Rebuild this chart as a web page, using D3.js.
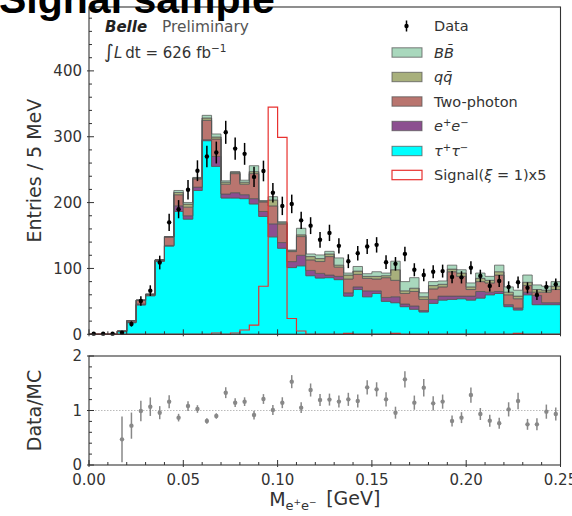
<!DOCTYPE html>
<html>
<head>
<meta charset="utf-8">
<script src="https://cdn.jsdelivr.net/npm/d3@7"></script>
<style>
  body { margin: 0; background: #fff; }
  svg { display: block; font-family: "DejaVu Sans", sans-serif; }
</style>
</head>
<body>
<div id="chart"></div>
<script>
// 5 MeV bins from 0 to 0.25 GeV
const binWidth = 0.005;
const nBins = 50;

// stacked MC components, entries per bin (bottom to top)
const tauTau = [0,0,0,4,17.6,44.6,58.5,111,134,186.5,174.9,218.4,294,255,207,207,206,198,179,148,130.7,101.3,104,89,85.5,86,83,58,68,57,62,50,48,42,38,34,47,52,53,54,52,55,60,62,42,37,60,45,45,45];
const eeBkg = [0,0,0,0.3,1,1.5,0.5,0.5,1,8.6,5.1,5.1,1.5,15.1,6,8,6,8,7.5,19.7,8.6,9.1,16,8,7,4,5,5,4,9,4,6,9,4,5,2,6,6,5,4,6,10,4,3,3,3,4,14,3,3];
const twoPhoton = [0,0,0,0.7,2,5.5,1.5,1.5,13,16.8,13.1,12.5,29.4,26.4,15,29,16,38,14.5,27.3,28.4,15.2,28.4,16,18,28,14,21,19,19,18,30,25,16,22,17,16,14,37,30,10,15,14,25,15,14,10,5,16,20];
const qqBar = [0,0,0,0,0.1,0.4,0.5,0,0,3.5,4.6,1.3,3.6,3.1,3,2,3,3,1,9,1.8,1.4,2.6,5,4.5,4,3,6,5,3,4,3,16,4,5,4,5,4,4,5,4,5,4,5,4,4,5,4,3,5];
const bbBar = [0,0,0,0,0,0,0,0,0,3,2.5,0.9,4,4.6,2,1,3,9,1,5,1.5,1,10,4,5.5,4,11,3,7,4,7,4,13,14,16,6,6,5,6,5,6,8,6,10,8,9,11,7,6,7];

// signal (xi = 1) scaled x5
const signalX5 = [0,0,0,0,0,0,0,0,0,0,0,0,0,2,0,2,6.5,14,73,345,299,24,5,0,0,0,0,1.5,0,0,0,0,1.5,0,0,0,0,0,0,0,0,0,0,0,0,1.5,0,0,0,0];

// data
const dataCounts = [1,1,1,2.3,15.7,50.6,66.3,109,170,190,219.5,248.4,270,276,306.7,282,274,239,248,215,195,198,173,165,143.5,154,134.3,111,123,133.3,135.8,109.5,107,122,98,90,95,96,87,86.5,101,88.7,73.5,81,72,79,70.5,59.8,72,76];
const dataErr = [1,1,1,1.5,4,7.1,8.1,10.4,13,13.8,14.8,15.8,16.4,16.6,17.5,16.8,16.6,15.5,15.7,14.7,14,14.1,13.2,12.8,12,12.4,11.6,10.5,11.1,11.5,11.7,10.5,10.3,11,9.9,9.5,9.7,9.8,9.3,9.3,10,9.4,8.6,9,8.5,8.9,8.4,7.7,8.5,8.7];

// data / MC ratio (no point where MC is empty)
const ratioVals = [null,null,null,0.471,0.722,0.991,1.07,0.96,1.162,0.869,1.082,1.027,0.807,0.899,1.327,1.143,1.162,0.917,1.211,1.009,1.143,1.529,1.052,1.376,1.193,1.2,1.163,1.205,1.174,1.425,1.388,1.205,0.96,1.572,1.144,1.419,1.131,1.163,0.807,0.869,1.284,0.936,0.814,0.765,1.021,1.174,0.746,0.746,0.979,0.936];
const ratioErr = [0,0,0,0.42,0.24,0.19,0.17,0.12,0.12,0.07,0.09,0.07,0.05,0.05,0.1,0.08,0.08,0.08,0.09,0.09,0.1,0.12,0.1,0.12,0.11,0.11,0.11,0.12,0.12,0.13,0.13,0.13,0.11,0.15,0.13,0.16,0.13,0.13,0.1,0.1,0.14,0.11,0.11,0.1,0.13,0.15,0.1,0.11,0.13,0.12];

const xTicks = [0, 0.05, 0.10, 0.15, 0.20, 0.25];
const yTicksMain = [0, 100, 200, 300, 400];
const yTicksRatio = [0, 1, 2];

const components = [
  {key: "tau", label: "tau", values: tauTau, color: "#00ffff"},
  {key: "ee", label: "ee", values: eeBkg, color: "#8c4f90"},
  {key: "gg", label: "Two-photon", values: twoPhoton, color: "#b9756f"},
  {key: "qq", label: "qq", values: qqBar, color: "#a8b07c"},
  {key: "bb", label: "BB", values: bbBar, color: "#a9d8bd"}
];

const W = 572, H = 516;
const svg = d3.select("#chart").append("svg").attr("width", W).attr("height", H);

const x = d3.scaleLinear().domain([0, 0.25]).range([89, 560.5]);
const yMain = d3.scaleLinear().domain([0, 497]).range([334.3, 7]);
const yRatio = d3.scaleLinear().domain([0, 2]).range([465, 356]);

const txt = "#333";

// table for d3.stack
const table = d3.range(nBins).map(i => {
  const row = {bin: i};
  components.forEach(c => row[c.key] = c.values[i]);
  return row;
});
const stacked = d3.stack().keys(components.map(c => c.key))(table);

// turn per-bin values into step vertices
function stepPoints(arr) {
  const pts = [];
  arr.forEach((d, i) => {
    pts.push({x: i * binWidth, d: d});
    pts.push({x: (i + 1) * binWidth, d: d});
  });
  return pts;
}

const area = d3.area()
  .x(p => x(p.x))
  .y0(p => yMain(p.d[0]))
  .y1(p => yMain(p.d[1]));

const gStack = svg.append("g");
stacked.forEach((layer, li) => {
  gStack.append("path")
    .attr("d", area(stepPoints(layer)))
    .attr("fill", components[li].color)
    .attr("stroke", "#555")
    .attr("stroke-opacity", 0.75)
    .attr("stroke-width", 1);
});

// signal outline
const sigLine = d3.line().x(p => x(p.x)).y(p => yMain(p.d));
const sigPts = [{x: 0, d: 0}].concat(stepPoints(signalX5)).concat([{x: nBins * binWidth, d: 0}]);
svg.append("path")
  .attr("d", sigLine(sigPts))
  .attr("fill", "none")
  .attr("stroke", "#e8312f")
  .attr("stroke-width", 1.2);

// data points
const gData = svg.append("g");
dataCounts.forEach((v, i) => {
  const cx = x((i + 0.5) * binWidth);
  gData.append("line")
    .attr("x1", cx).attr("x2", cx)
    .attr("y1", yMain(v - dataErr[i])).attr("y2", yMain(Math.min(v + dataErr[i], 497)))
    .attr("stroke", "#000").attr("stroke-width", 1.5);
  gData.append("circle").attr("cx", cx).attr("cy", yMain(v)).attr("r", 2.2).attr("fill", "#000");
});

// ratio panel
svg.append("line")
  .attr("x1", x(0)).attr("x2", x(0.25))
  .attr("y1", yRatio(1)).attr("y2", yRatio(1))
  .attr("stroke", "#bbb").attr("stroke-width", 1).attr("stroke-dasharray", "1.5,1.5");

const gRatio = svg.append("g");
ratioVals.forEach((v, i) => {
  if (v === null) return;
  const cx = x((i + 0.5) * binWidth);
  gRatio.append("line")
    .attr("x1", cx).attr("x2", cx)
    .attr("y1", yRatio(Math.max(0, v - ratioErr[i]))).attr("y2", yRatio(v + ratioErr[i]))
    .attr("stroke", "#888").attr("stroke-width", 1.5);
  gRatio.append("circle").attr("cx", cx).attr("cy", yRatio(v)).attr("r", 2.2).attr("fill", "#888");
});

// frames
[[yMain(497), yMain(0)], [yRatio(2), yRatio(0)]].forEach(([t, b]) => {
  svg.append("rect")
    .attr("x", x(0)).attr("y", t)
    .attr("width", x(0.25) - x(0)).attr("height", b - t)
    .attr("fill", "none").attr("stroke", "#333").attr("stroke-width", 1.1);
});

// ticks
function xTicksAt(yb) {
  const g = svg.append("g").attr("stroke", "#333").attr("stroke-width", 1);
  d3.range(0, 26).forEach(k => {
    const v = k * 0.01;
    const major = k % 5 === 0;
    g.append("line").attr("x1", x(v)).attr("x2", x(v))
      .attr("y1", yb + (major ? 2 : 0)).attr("y2", yb - (major ? 5 : 3));
  });
}
xTicksAt(yMain(0));
xTicksAt(yRatio(0));

const gy = svg.append("g").attr("stroke", "#333").attr("stroke-width", 1);
d3.range(0, 25).forEach(k => {
  const v = k * 20;
  const major = k % 5 === 0;
  gy.append("line").attr("x1", x(0) - (major ? 2 : 0)).attr("x2", x(0) + (major ? 5 : 3))
    .attr("y1", yMain(v)).attr("y2", yMain(v));
});
d3.range(0, 11).forEach(k => {
  const v = k * 0.2;
  const major = k % 5 === 0;
  gy.append("line").attr("x1", x(0) - (major ? 2 : 0)).attr("x2", x(0) + (major ? 5 : 3))
    .attr("y1", yRatio(v)).attr("y2", yRatio(v));
});

// tick labels
svg.append("g").selectAll("text").data(yTicksMain).join("text")
  .attr("x", 82).attr("y", d => yMain(d)).attr("dy", "0.36em")
  .attr("text-anchor", "end").attr("font-size", 15).attr("fill", txt)
  .text(d => d);
svg.append("g").selectAll("text").data(yTicksRatio).join("text")
  .attr("x", 82).attr("y", d => yRatio(d)).attr("dy", "0.36em")
  .attr("text-anchor", "end").attr("font-size", 15).attr("fill", txt)
  .text(d => d);
svg.append("g").selectAll("text").data(xTicks).join("text")
  .attr("x", d => x(d)).attr("y", 485)
  .attr("text-anchor", "middle").attr("font-size", 15).attr("fill", txt)
  .text(d => d3.format(".2f")(d));

// axis labels
svg.append("text")
  .attr("transform", `translate(41,${(yMain(0) + yMain(497)) / 2}) rotate(-90)`)
  .attr("text-anchor", "middle").attr("font-size", 19).attr("fill", txt)
  .text("Entries / 5 MeV");
svg.append("text")
  .attr("transform", `translate(41,${yRatio(1)}) rotate(-90)`)
  .attr("text-anchor", "middle").attr("font-size", 19).attr("fill", txt)
  .text("Data/MC");

const xl = svg.append("text")
  .attr("x", (x(0) + x(0.25)) / 2).attr("y", 506)
  .attr("text-anchor", "middle").attr("font-size", 19).attr("fill", txt);
xl.append("tspan").text("M");
xl.append("tspan").attr("font-size", 13).attr("dy", 4).text("e");
xl.append("tspan").attr("font-size", 9).attr("dy", -5).text("+");
xl.append("tspan").attr("font-size", 13).attr("dy", 5).text("e");
xl.append("tspan").attr("font-size", 9).attr("dy", -5).text("\u2212");
xl.append("tspan").attr("dy", 0).text("\u2002[GeV]");

// title
svg.append("text")
  .attr("x", -1).attr("y", 13)
  .attr("font-family", "'Liberation Sans', Arial, sans-serif")
  .attr("font-weight", "bold").attr("font-size", 41).attr("fill", "#000")
  .text("Signal sample");

// Belle label
svg.append("text").attr("x", 105).attr("y", 32)
  .attr("font-size", 15).attr("font-weight", "bold").attr("font-style", "italic").attr("fill", "#222")
  .text("Belle");
svg.append("text").attr("x", 162).attr("y", 32)
  .attr("font-size", 15.4).attr("fill", "#555")
  .text("Preliminary");
const lumi = svg.append("text").attr("x", 104).attr("y", 58).attr("font-size", 15).attr("fill", txt);
lumi.append("tspan").attr("font-size", 19).text("\u222B");
lumi.append("tspan").attr("font-style", "italic").text("L");
lumi.append("tspan").text("\u2009dt = 626 fb");
lumi.append("tspan").attr("font-size", 10.5).attr("dy", -6).text("\u22121");

// legend
const legendRows = [
  {type: "data", y: 26},
  {type: "box", y: 52.5, key: "bb"},
  {type: "box", y: 77, key: "qq"},
  {type: "box", y: 101.5, key: "gg"},
  {type: "box", y: 126, key: "ee"},
  {type: "box", y: 151, key: "tau"},
  {type: "signal", y: 175}
];
const lg = svg.append("g");
legendRows.forEach(r => {
  if (r.type === "data") {
    lg.append("line").attr("x1", 406.5).attr("x2", 406.5).attr("y1", r.y - 5.5).attr("y2", r.y + 5.5)
      .attr("stroke", "#000").attr("stroke-width", 1.5);
    lg.append("circle").attr("cx", 406.5).attr("cy", r.y).attr("r", 2.2).attr("fill", "#000");
  } else if (r.type === "box") {
    const c = components.find(d => d.key === r.key);
    lg.append("rect").attr("x", 392).attr("y", r.y - 4.7).attr("width", 30).attr("height", 9.4)
      .attr("fill", c.color).attr("stroke", "#555").attr("stroke-opacity", 0.75).attr("stroke-width", 1);
  } else {
    lg.append("rect").attr("x", 392).attr("y", r.y - 4.7).attr("width", 30).attr("height", 9.4)
      .attr("fill", "#fff").attr("stroke", "#e8312f").attr("stroke-width", 1.2);
  }
});
function legendText(y) {
  return lg.append("text").attr("x", 434).attr("y", y).attr("dy", "0.36em")
    .attr("font-size", 14.5).attr("fill", txt);
}
legendText(26).text("Data");
let t = legendText(52.5).attr("font-style", "italic");
t.append("tspan").text("B");
t.append("tspan").text("B\u0304");
t = legendText(77).attr("font-style", "italic");
t.append("tspan").text("q");
t.append("tspan").text("q\u0304");
legendText(101.5).text("Two-photon");
t = legendText(126);
t.append("tspan").attr("font-style", "italic").text("e");
t.append("tspan").attr("font-size", 10).attr("dy", -5).text("+");
t.append("tspan").attr("font-style", "italic").attr("dy", 5).text("e");
t.append("tspan").attr("font-size", 10).attr("dy", -5).text("\u2212");
t = legendText(151);
t.append("tspan").attr("font-style", "italic").text("\u03C4");
t.append("tspan").attr("font-size", 10).attr("dy", -5).text("+");
t.append("tspan").attr("font-style", "italic").attr("dy", 5).text("\u03C4");
t.append("tspan").attr("font-size", 10).attr("dy", -5).text("\u2212");
t = legendText(175);
t.append("tspan").text("Signal(");
t.append("tspan").attr("font-style", "italic").text("\u03BE");
t.append("tspan").text(" = 1)x5");
</script>
</body>
</html>
